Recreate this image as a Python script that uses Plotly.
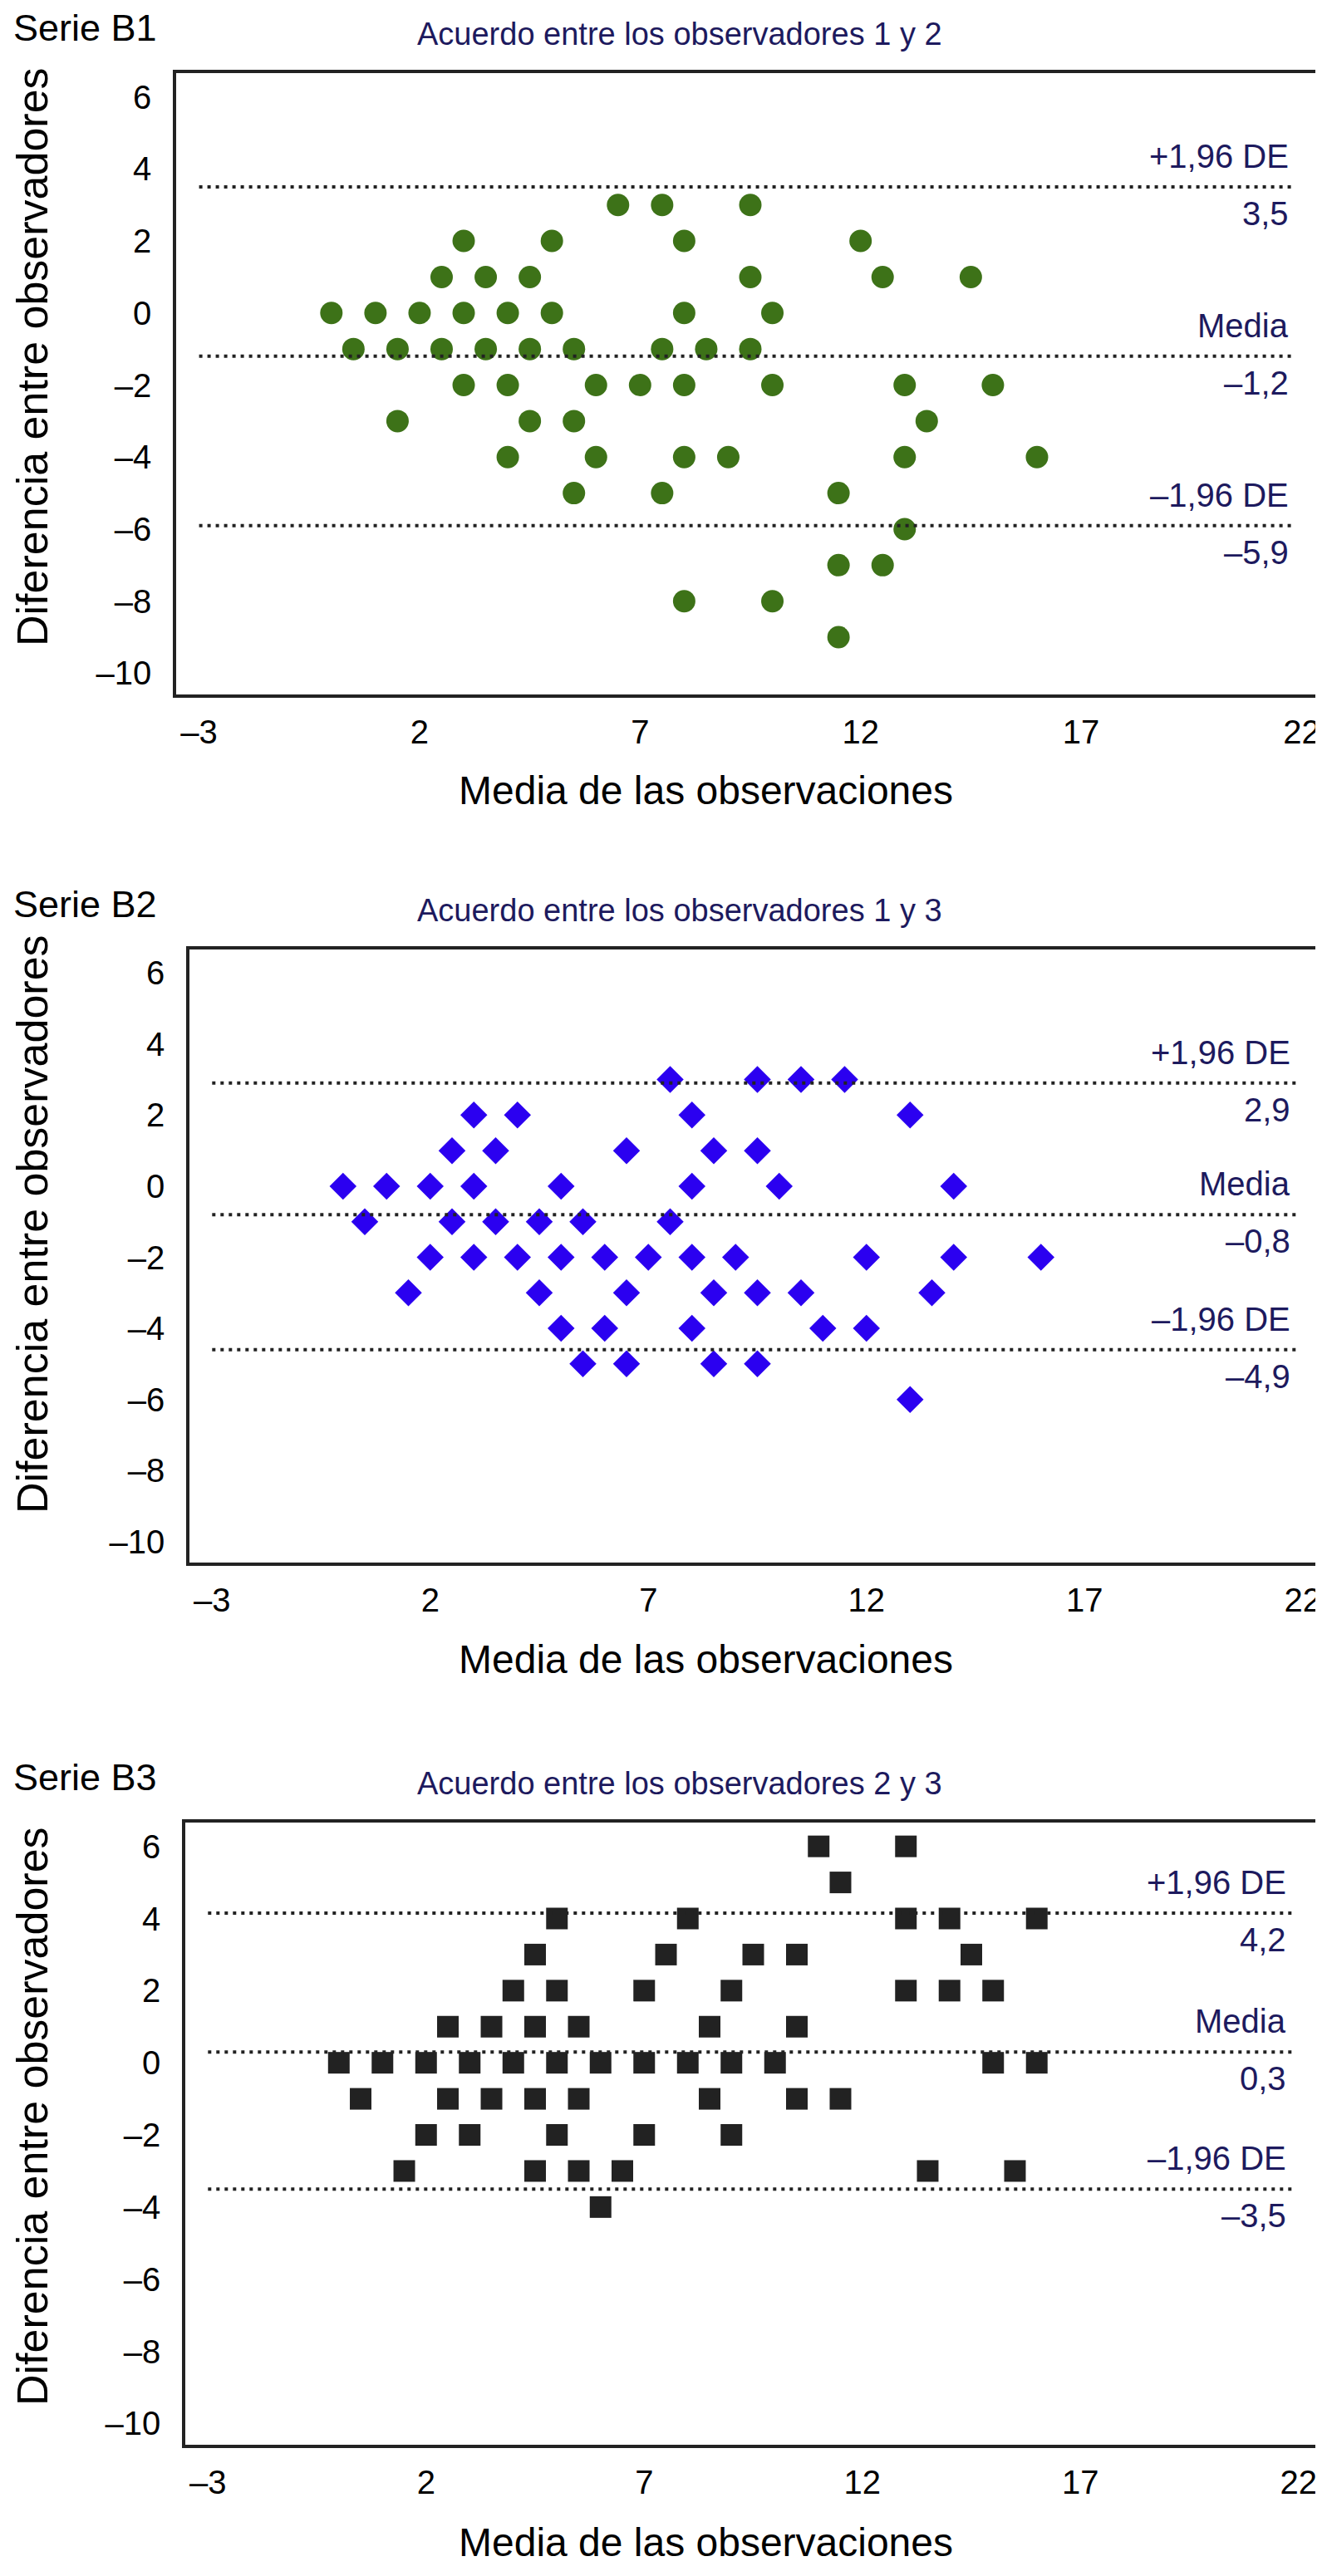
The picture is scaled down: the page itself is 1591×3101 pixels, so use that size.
import plotly.graph_objects as go

# ---------------- data ----------------
# Serie B1 (observers 1 and 2) - circles
b1_x = [6.5, 7.5, 9.5,
        3, 5, 8, 12,
        2.5, 3.5, 4.5, 9.5, 12.5, 14.5,
        0, 1, 2, 3, 4, 5, 8, 10,
        0.5, 1.5, 2.5, 3.5, 4.5, 5.5, 7.5, 8.5, 9.5,
        3, 4, 6, 7, 8, 10, 13, 15,
        1.5, 4.5, 5.5, 13.5,
        4, 6, 8, 9, 13, 16,
        5.5, 7.5, 11.5,
        13,
        11.5, 12.5,
        8, 10,
        11.5]
b1_y = [3, 3, 3,
        2, 2, 2, 2,
        1, 1, 1, 1, 1, 1,
        0, 0, 0, 0, 0, 0, 0, 0,
        -1, -1, -1, -1, -1, -1, -1, -1, -1,
        -2, -2, -2, -2, -2, -2, -2, -2,
        -3, -3, -3, -3,
        -4, -4, -4, -4, -4, -4,
        -5, -5, -5,
        -6,
        -7, -7,
        -8, -8,
        -9]

# Serie B2 (observers 1 and 3) - diamonds
b2_x = [7.5, 9.5, 10.5, 11.5,
        3, 4, 8, 13,
        2.5, 3.5, 6.5, 8.5, 9.5,
        0, 1, 2, 3, 5, 8, 10, 14,
        0.5, 2.5, 3.5, 4.5, 5.5, 7.5,
        2, 3, 4, 5, 6, 7, 8, 9, 12, 14, 16,
        1.5, 4.5, 6.5, 8.5, 9.5, 10.5, 13.5,
        5, 6, 8, 11, 12,
        5.5, 6.5, 8.5, 9.5,
        13]
b2_y = [3, 3, 3, 3,
        2, 2, 2, 2,
        1, 1, 1, 1, 1,
        0, 0, 0, 0, 0, 0, 0, 0,
        -1, -1, -1, -1, -1, -1,
        -2, -2, -2, -2, -2, -2, -2, -2, -2, -2, -2,
        -3, -3, -3, -3, -3, -3, -3,
        -4, -4, -4, -4, -4,
        -5, -5, -5, -5,
        -6]

# Serie B3 (observers 2 and 3) - squares
b3_x = [11, 13,
        11.5,
        5, 8, 13, 14, 16,
        4.5, 7.5, 9.5, 10.5, 14.5,
        4, 5, 7, 9, 13, 14, 15,
        2.5, 3.5, 4.5, 5.5, 8.5, 10.5,
        0, 1, 2, 3, 4, 5, 6, 7, 8, 9, 10, 15, 16,
        0.5, 2.5, 3.5, 4.5, 5.5, 8.5, 10.5, 11.5,
        2, 3, 5, 7, 9,
        1.5, 4.5, 5.5, 6.5, 13.5, 15.5,
        6]
b3_y = [6, 6,
        5,
        4, 4, 4, 4, 4,
        3, 3, 3, 3, 3,
        2, 2, 2, 2, 2, 2, 2,
        1, 1, 1, 1, 1, 1,
        0, 0, 0, 0, 0, 0, 0, 0, 0, 0, 0, 0, 0,
        -1, -1, -1, -1, -1, -1, -1, -1,
        -2, -2, -2, -2, -2,
        -3, -3, -3, -3, -3, -3,
        -4]

# reference lines (upper limit, mean, lower limit) and their labels
b1_lines = [3.5, -1.2, -5.9]
b2_lines = [2.9, -0.8, -4.6]
b3_lines = [4.15, 0.3, -3.5]
b1_values = ["3,5", "–1,2", "–5,9"]
b2_values = ["2,9", "–0,8", "–4,9"]
b3_values = ["4,2", "0,3", "–3,5"]
line_names = ["+1,96 DE", "Media", "–1,96 DE"]

series_labels = ["Serie B1", "Serie B2", "Serie B3"]
titles = ["Acuerdo entre los observadores 1 y 2",
          "Acuerdo entre los observadores 1 y 3",
          "Acuerdo entre los observadores 2 y 3"]
x_title = "Media de las observaciones"
y_title = "Diferencia entre observadores"

x_tickvals = [-3, 2, 7, 12, 17, 22]
x_ticktext = ["–3", "2", "7", "12", "17", "22"]
y_tickvals = [6, 4, 2, 0, -2, -4, -6, -8, -10]
y_ticktext = ["6", "4", "2", "0", "–2", "–4", "–6", "–8", "–10"]

# ---------------- layout geometry (pixels) ----------------
W, H = 1591, 3101
FONT = "Liberation Sans, Arial, Helvetica, sans-serif"
NAVY = "#1d1a5e"
FRAME = "#222222"

# (left, right, top, bottom) of each plot frame in px
frames = [(204, 1586, 80, 828),
          (220, 1587, 1135, 1873),
          (215, 1582, 2186, 2935)]
y_title_cy = [422, 1466, 2540]
x_title_cy = [943, 1989, 3052]

fig = go.Figure()

series = [
    (b1_x, b1_y, "circle", 27, "#3d7218", b1_lines, b1_values),
    (b2_x, b2_y, "diamond", 25, "#2b00f0", b2_lines, b2_values),
    (b3_x, b3_y, "square", 26, "#222222", b3_lines, b3_values),
]

annotations = []
for i, (xs, ys, sym, size, col, lines, vals) in enumerate(series):
    n = "" if i == 0 else str(i + 1)
    xa, ya = "x" + n, "y" + n
    fig.add_trace(go.Scatter(
        x=xs, y=ys, mode="markers", xaxis=xa, yaxis=ya,
        marker=dict(symbol=sym, size=size, color=col, line=dict(width=0)),
        showlegend=False, hoverinfo="skip"))
    for lv in lines:
        fig.add_trace(go.Scatter(
            x=[-3, 21.85], y=[lv, lv], mode="lines", xaxis=xa, yaxis=ya,
            line=dict(color=FRAME, width=4, dash="4px,6px"),
            showlegend=False, hoverinfo="skip"))
    for lv, name, val in zip(lines, line_names, vals):
        annotations.append(dict(x=21.75, y=lv, xref=xa, yref=ya, text=name,
                                showarrow=False, xanchor="right", yanchor="middle",
                                yshift=37, font=dict(family=FONT, size=40, color=NAVY)))
        annotations.append(dict(x=21.75, y=lv, xref=xa, yref=ya, text=val,
                                showarrow=False, xanchor="right", yanchor="middle",
                                yshift=-32, font=dict(family=FONT, size=40, color=NAVY)))

    l, r, t, b = frames[i]
    xdom = [l / W, r / W]
    ydom = [1 - b / H, 1 - t / H]
    axis_common = dict(showgrid=False, zeroline=False, showline=True, mirror=True,
                       linecolor=FRAME, linewidth=3.5, ticks="",
                       tickfont=dict(family=FONT, size=40, color="black"))
    fig.layout["xaxis" + n] = dict(domain=xdom, range=[-3.52, 22.52], anchor=ya,
                                   tickmode="array", tickvals=x_tickvals, ticktext=x_ticktext,
                                   ticklabelstandoff=7, **axis_common)
    fig.layout["yaxis" + n] = dict(domain=ydom, range=[-10.59, 6.66], anchor=xa,
                                   tickmode="array", tickvals=y_tickvals, ticktext=y_ticktext,
                                   ticklabelstandoff=18, **axis_common)

    # series label and title
    annotations.append(dict(x=6 / W, y=1 - (t - 55) / H, xref="paper", yref="paper",
                            text=series_labels[i], showarrow=False, xanchor="left",
                            yanchor="middle", font=dict(family=FONT, size=45, color="black")))
    annotations.append(dict(x=810 / W, y=1 - (t - 47) / H, xref="paper", yref="paper",
                            text=titles[i], showarrow=False, xanchor="center",
                            yanchor="middle", font=dict(family=FONT, size=38, color=NAVY)))
    # axis titles
    annotations.append(dict(x=841 / W, y=1 - x_title_cy[i] / H, xref="paper", yref="paper",
                            text=x_title, showarrow=False, xanchor="center",
                            yanchor="middle", font=dict(family=FONT, size=48, color="black")))
    annotations.append(dict(x=31 / W, y=1 - y_title_cy[i] / H, xref="paper", yref="paper",
                            text=y_title, showarrow=False, xanchor="center", textangle=-90,
                            yanchor="middle", font=dict(family=FONT, size=52, color="black")))

fig.update_layout(width=W, height=H, margin=dict(l=0, r=0, t=0, b=0),
                  paper_bgcolor="white", plot_bgcolor="white",
                  annotations=annotations, showlegend=False)

fig.write_html("out.html")
